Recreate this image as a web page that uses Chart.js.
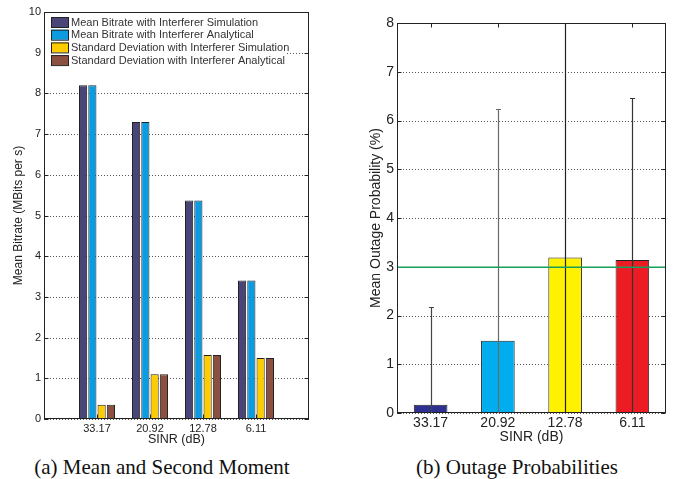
<!DOCTYPE html>
<html>
<head>
<meta charset="utf-8">
<title>SINR bitrate and outage</title>
<script src="https://cdn.jsdelivr.net/npm/chart.js@4.4.1/dist/chart.umd.min.js"></script>
<style>
    html, body { margin: 0; padding: 0; background: #fff; }
    body { width: 673px; height: 479px; position: relative; overflow: hidden; }
    canvas { position: absolute; top: 0; }
    #bitrateChart { left: 0; }
    #outageChart { left: 330px; }
    .caption {
        position: absolute;
        top: 455px;
        line-height: 24px;
        font-family: 'Liberation Serif', 'Times New Roman', serif;
        font-size: 21px;
        color: #111;
        white-space: nowrap;
        transform: translateX(-50%);
    }
</style>
</head>
<body>
<canvas id="bitrateChart" width="330" height="447"></canvas>
<canvas id="outageChart" width="343" height="446"></canvas>
<div class="caption" style="left: 162px;">(a) Mean and Second Moment</div>
<div class="caption" style="left: 517px;">(b) Outage Probabilities</div>

<script>
// SINR categories (dB)
const sinrLabels = ['33.17', '20.92', '12.78', '6.11'];

// left panel: mean bitrate and standard deviation (MBits per s)
const meanBitrateSim = [8.2, 7.3, 5.37, 3.4];
const meanBitrateAna = [8.2, 7.3, 5.37, 3.4];
const stdDevSim = [0.35, 1.1, 1.57, 1.5];
const stdDevAna = [0.35, 1.1, 1.57, 1.5];

// right panel: mean outage probability (%) and top of each error bar
const outageMean = [0.17, 1.48, 3.19, 3.14];
const outageUpper = [2.17, 6.24, 8.6, 6.47];
const outageThreshold = 3;

// colours
const bitrateColors = ['#4a4577', '#0b9be0', '#ffcc00', '#8b5040'];
const outageColors = ['#2e3192', '#00aeef', '#fff200', '#ed1c24'];
const errorColors = ['#444', '#6a6a6a', '#222', '#333'];

Chart.defaults.font.family = "'Liberation Sans', Arial, sans-serif";
Chart.defaults.color = '#222';

// pad the category list so the groups sit at 1..4 on a 0..5 axis (like matlab)
const padded = (arr, fill) => [fill, ...arr, fill];

// dotted horizontal grid drawn by hand so the dash is reliable
const dottedGridPlugin = {
    id: 'dottedGrid',
    beforeDatasetsDraw(chart) {
        const { ctx, chartArea: a, scales: { y } } = chart;
        ctx.save();
        ctx.strokeStyle = '#555';
        ctx.lineWidth = 1;
        ctx.setLineDash([1, 2]);
        ctx.beginPath();
        y.ticks.forEach((tick) => {
            const py = Math.round(y.getPixelForValue(tick.value)) + 0.5;
            ctx.moveTo(a.left, py);
            ctx.lineTo(a.right, py);
        });
        ctx.stroke();
        ctx.restore();
    },
};

// black box around the plot with inward tick marks
const framePlugin = {
    id: 'frame',
    afterDatasetsDraw(chart) {
        const { ctx, chartArea: a, scales: { x, y } } = chart;
        const l = Math.round(a.left) + 0.5;
        const r = Math.round(a.right) - 0.5;
        const t = Math.round(a.top) + 0.5;
        const b = Math.round(a.bottom) - 0.5;
        ctx.save();
        ctx.strokeStyle = '#222';
        ctx.lineWidth = 1;
        ctx.strokeRect(l, t, r - l, b - t);
        ctx.beginPath();
        y.ticks.forEach((tick) => {
            const py = Math.round(y.getPixelForValue(tick.value)) + 0.5;
            ctx.moveTo(l, py); ctx.lineTo(l + 4, py);
            ctx.moveTo(r, py); ctx.lineTo(r - 4, py);
        });
        chart.data.labels.forEach((label, i) => {
            if (!label) return;
            const px = Math.round(x.getPixelForValue(i)) + 0.5;
            ctx.moveTo(px, t); ctx.lineTo(px, t + 4);
            ctx.moveTo(px, b); ctx.lineTo(px, b - 4);
        });
        ctx.stroke();
        ctx.restore();
    },
};

// matlab-like legend box inside the top-left of the plot
const insideLegendPlugin = {
    id: 'insideLegend',
    afterDraw(chart) {
        const { ctx, chartArea: a } = chart;
        const rowH = 12.7;
        ctx.save();
        ctx.fillStyle = '#fff';
        ctx.fillRect(a.left + 1, a.top + 1, 242, 54);
        ctx.font = "11px 'Liberation Sans', Arial, sans-serif";
        ctx.textBaseline = 'middle';
        chart.data.datasets.forEach((ds, i) => {
            const cy = a.top + 10 + i * rowH;
            ctx.fillStyle = ds.backgroundColor;
            ctx.fillRect(a.left + 7, cy - 5, 17, 10);
            ctx.strokeStyle = '#222';
            ctx.strokeRect(a.left + 7.5, cy - 4.5, 17, 10);
            ctx.fillStyle = '#333';
            ctx.fillText(ds.label, a.left + 27, cy + 0.5);
        });
        ctx.restore();
    },
};

// vertical error bars and the 3% reference line
const errorBarPlugin = {
    id: 'errorBars',
    afterDatasetsDraw(chart) {
        const { ctx, chartArea: a, scales: { x, y } } = chart;
        ctx.save();
        ctx.beginPath();
        ctx.rect(a.left, a.top, a.right - a.left, a.bottom - a.top);
        ctx.clip();

        outageMean.forEach((mean, i) => {
            const upper = outageUpper[i];
            const lower = 2 * mean - upper;
            const px = Math.round(x.getPixelForValue(i)) + 0.5;
            const yTop = Math.round(y.getPixelForValue(upper)) + 0.5;
            const yBot = y.getPixelForValue(lower);
            ctx.strokeStyle = errorColors[i];
            ctx.lineWidth = 1.2;
            ctx.beginPath();
            ctx.moveTo(px, yBot);
            ctx.lineTo(px, yTop);
            ctx.moveTo(px - 2.5, yTop);
            ctx.lineTo(px + 2.5, yTop);
            ctx.stroke();
        });

        // threshold line, drawn on its own path so nothing else touches it
        const ty = Math.round(y.getPixelForValue(outageThreshold));
        ctx.fillStyle = '#16a05c';
        ctx.fillRect(a.left + 1, ty - 0.5, a.right - a.left - 2, 1.5);
        ctx.restore();
    },
};

const hiddenGrid = { display: false, drawTicks: false };

new Chart(document.getElementById('bitrateChart'), {
    type: 'bar',
    data: {
        labels: padded(sinrLabels, ''),
        datasets: [
            { label: 'Mean Bitrate with Interferer Simulation', data: padded(meanBitrateSim, null) },
            { label: 'Mean Bitrate with Interferer Analytical', data: padded(meanBitrateAna, null) },
            { label: 'Standard Deviation with Interferer Simulation', data: padded(stdDevSim, null) },
            { label: 'Standard Deviation with Interferer Analytical', data: padded(stdDevAna, null) },
        ].map((ds, i) => ({
            ...ds,
            backgroundColor: bitrateColors[i],
            borderColor: '#222',
            borderWidth: 1,
            categoryPercentage: 0.7,
            barPercentage: 0.88,
        })),
    },
    options: {
        responsive: false,
        animation: false,
        layout: { padding: { top: 12, right: 21, left: 0, bottom: 0 } },
        plugins: { legend: { display: false }, tooltip: { enabled: false } },
        scales: {
            x: {
                offset: false,
                grid: hiddenGrid,
                border: { display: false },
                ticks: { font: { size: 11 }, padding: 3, maxRotation: 0, autoSkip: false },
                title: { display: true, text: 'SINR (dB)', font: { size: 12.5 }, padding: 0 },
                afterFit: (scale) => { scale.height = 28; },
            },
            y: {
                min: 0,
                max: 10,
                grid: hiddenGrid,
                border: { display: false },
                ticks: { stepSize: 1, font: { size: 11 }, padding: 3 },
                title: {
                    display: true,
                    text: 'Mean Bitrate (MBits per s)',
                    font: { size: 12 },
                    padding: { top: 11, bottom: 0 },
                },
                afterFit: (scale) => { scale.width = 44; },
            },
        },
    },
    plugins: [dottedGridPlugin, framePlugin, insideLegendPlugin],
});

new Chart(document.getElementById('outageChart'), {
    type: 'bar',
    data: {
        labels: sinrLabels,
        datasets: [{
            label: 'Mean Outage Probability',
            data: outageMean,
            backgroundColor: outageColors,
            borderColor: '#222',
            borderWidth: 1,
            categoryPercentage: 1,
            barPercentage: 0.5,
        }],
    },
    options: {
        responsive: false,
        animation: false,
        layout: { padding: { top: 23, right: 7, left: 0, bottom: 0 } },
        plugins: { legend: { display: false }, tooltip: { enabled: false } },
        scales: {
            x: {
                offset: true,
                grid: hiddenGrid,
                border: { display: false },
                ticks: { font: { size: 14 }, padding: 2, maxRotation: 0, autoSkip: false },
                title: { display: true, text: 'SINR (dB)', font: { size: 14 }, padding: 0 },
                afterFit: (scale) => { scale.height = 33; },
            },
            y: {
                min: 0,
                max: 8,
                grid: hiddenGrid,
                border: { display: false },
                ticks: { stepSize: 1, font: { size: 14 }, padding: 3 },
                title: {
                    display: true,
                    text: 'Mean Outage Probability (%)',
                    font: { size: 14 },
                    padding: { top: 38, bottom: 0 },
                },
                afterFit: (scale) => { scale.width = 67; },
            },
        },
    },
    plugins: [dottedGridPlugin, framePlugin, errorBarPlugin],
});
</script>
</body>
</html>
